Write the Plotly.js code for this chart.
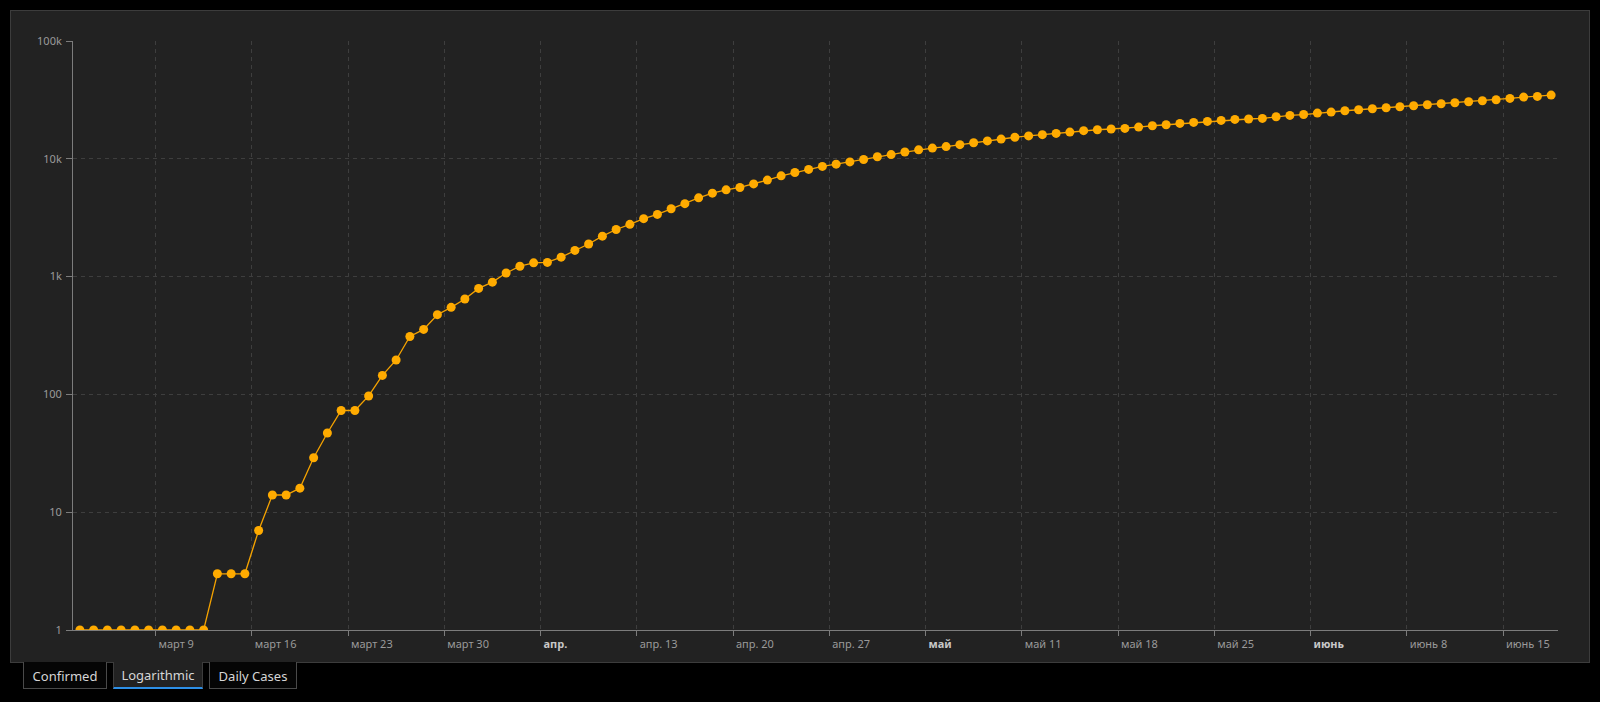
<!DOCTYPE html>
<html>
<head>
<meta charset="utf-8">
<script src="https://cdn.plot.ly/plotly-3.0.1.min.js"></script>
<style>
  html, body { margin:0; padding:0; background:#000; width:1600px; height:702px; overflow:hidden; font-family:"Noto Sans", sans-serif; }
  #panel { position:absolute; left:10px; top:10px; width:1580px; height:653px; box-sizing:border-box; background:#222222; border:1px solid #3c3c3c; }
  #chart { position:absolute; left:0; top:0; width:1600px; height:702px; }
  .tab { position:absolute; top:662px; height:27px; box-sizing:border-box; color:#d6d6d6; font-size:13px; line-height:28px; text-align:center; background:#050505; border:1px solid #4a4a4a; border-top:none; }
  .tab.active { background:#222222; border-bottom:2px solid #2d8fe6; border-left:1px solid #3c3c3c; border-right:1px solid #3c3c3c; line-height:27px; }
</style>
</head>
<body>
<div id="panel"></div>
<div id="chart"></div>
<div class="tab" style="left:23px;width:84px;">Confirmed</div>
<div class="tab active" style="left:113px;width:90px;">Logarithmic</div>
<div class="tab" style="left:209px;width:88px;">Daily Cases</div>
<script>
// Dates of each reading (cumulative confirmed cases)
const dates = [
 '2020-03-03 12:00','2020-03-04 12:00','2020-03-05 12:00','2020-03-06 12:00','2020-03-07 12:00','2020-03-08 12:00','2020-03-09 12:00','2020-03-10 12:00','2020-03-11 12:00','2020-03-12 12:00',
 '2020-03-13 12:00','2020-03-14 12:00','2020-03-15 12:00','2020-03-16 12:00','2020-03-17 12:00','2020-03-18 12:00','2020-03-19 12:00','2020-03-20 12:00','2020-03-21 12:00','2020-03-22 12:00',
 '2020-03-23 12:00','2020-03-24 12:00','2020-03-25 12:00','2020-03-26 12:00','2020-03-27 12:00','2020-03-28 12:00','2020-03-29 12:00','2020-03-30 12:00','2020-03-31 12:00',
 '2020-04-01 12:00','2020-04-02 12:00','2020-04-03 12:00','2020-04-04 12:00','2020-04-05 12:00','2020-04-06 12:00','2020-04-07 12:00','2020-04-08 12:00','2020-04-09 12:00','2020-04-10 12:00',
 '2020-04-11 12:00','2020-04-12 12:00','2020-04-13 12:00','2020-04-14 12:00','2020-04-15 12:00','2020-04-16 12:00','2020-04-17 12:00','2020-04-18 12:00','2020-04-19 12:00','2020-04-20 12:00',
 '2020-04-21 12:00','2020-04-22 12:00','2020-04-23 12:00','2020-04-24 12:00','2020-04-25 12:00','2020-04-26 12:00','2020-04-27 12:00','2020-04-28 12:00','2020-04-29 12:00','2020-04-30 12:00',
 '2020-05-01 12:00','2020-05-02 12:00','2020-05-03 12:00','2020-05-04 12:00','2020-05-05 12:00','2020-05-06 12:00','2020-05-07 12:00','2020-05-08 12:00','2020-05-09 12:00','2020-05-10 12:00',
 '2020-05-11 12:00','2020-05-12 12:00','2020-05-13 12:00','2020-05-14 12:00','2020-05-15 12:00','2020-05-16 12:00','2020-05-17 12:00','2020-05-18 12:00','2020-05-19 12:00','2020-05-20 12:00',
 '2020-05-21 12:00','2020-05-22 12:00','2020-05-23 12:00','2020-05-24 12:00','2020-05-25 12:00','2020-05-26 12:00','2020-05-27 12:00','2020-05-28 12:00','2020-05-29 12:00','2020-05-30 12:00','2020-05-31 12:00',
 '2020-06-01 12:00','2020-06-02 12:00','2020-06-03 12:00','2020-06-04 12:00','2020-06-05 12:00','2020-06-06 12:00','2020-06-07 12:00','2020-06-08 12:00','2020-06-09 12:00','2020-06-10 12:00',
 '2020-06-11 12:00','2020-06-12 12:00','2020-06-13 12:00','2020-06-14 12:00','2020-06-15 12:00','2020-06-16 12:00','2020-06-17 12:00','2020-06-18 12:00'
];
const confirmed = [
 1,1,1,1,1,1,1,1,1,1,
 3,3,3,7,14,14,16,29,47,73,
 73,97,145,196,310,356,475,548,645,
 794,897,1072,1225,1308,1319,1462,1668,1892,2203,
 2511,2777,3102,3372,3764,4161,4662,5106,5449,5710,
 6125,6592,7170,7647,8125,8617,9009,9410,9866,10406,
 10861,11411,11913,12331,12697,13184,13691,14195,14710,15232,
 15648,16023,16425,16847,17330,17650,17900,18110,18580,19070,
 19450,19980,20360,20770,21190,21610,21760,22030,22730,23360,23750,
 24440,24930,25580,26090,26600,27130,27660,28210,28770,29330,
 29920,30510,31120,31730,32560,33420,33870,34760
];
// X-axis ticks (weekly, Mondays) and their labels
const xTickDates = ['2020-03-09','2020-03-16','2020-03-23','2020-03-30','2020-04-06','2020-04-13','2020-04-20','2020-04-27','2020-05-04','2020-05-11','2020-05-18','2020-05-25','2020-06-01','2020-06-08','2020-06-15'];
const xTickLabels = ['март 9','март 16','март 23','март 30','<b>апр.</b>','апр. 13','апр. 20','апр. 27','<b>май</b>','май 11','май 18','май 25','<b>июнь</b>','июнь 8','июнь 15'];
// Y-axis ticks (log decades)
const yTickVals = [1,10,100,1000,10000,100000];
const yTickLabels = ['1','10','100','1k','10k','100k'];

const boldColor = '#c8c8c8';
const xText = xTickLabels.map(t => t.startsWith('<b>') ? t.replace('<b>','<b><span style="color:'+boldColor+'">').replace('</b>','</span></b>') : t);

const trace = {
  x: dates, y: confirmed, type:'scatter', mode:'lines+markers',
  line:{color:'#f5a300', width:1.3},
  marker:{color:'#ffab00', size:9},
  hoverinfo:'skip'
};
const font = {family:'"Noto Sans", sans-serif', size:11, color:'#9a9a9a'};
const layout = {
  width:1600, height:702,
  paper_bgcolor:'rgba(0,0,0,0)', plot_bgcolor:'rgba(0,0,0,0)',
  margin:{l:73, r:42, t:41, b:72, pad:0},
  showlegend:false,
  font: font,
  xaxis:{
    type:'date', range:['2020-03-03','2020-06-19'],
    tickmode:'array', tickvals:xTickDates, ticktext:xText,
    ticklabelposition:'outside right',
    ticklabelshift:2, ticklabelstandoff:4,
    tickfont:font,
    showgrid:true, gridcolor:'#3e3e3e', gridwidth:1, griddash:'4px,4px',
    showline:true, linecolor:'#7c7c7c', linewidth:1,
    ticks:'outside', ticklen:5, tickcolor:'#7c7c7c', tickwidth:1,
    zeroline:false, fixedrange:true
  },
  yaxis:{
    type:'log', range:[0,5],
    tickmode:'array', tickvals:yTickVals, ticktext:yTickLabels,
    ticklabelstandoff:2,
    tickfont:font,
    showgrid:true, gridcolor:'#3e3e3e', gridwidth:1, griddash:'4px,4px',
    showline:true, linecolor:'#7c7c7c', linewidth:1,
    ticks:'outside', ticklen:6, tickcolor:'#7c7c7c', tickwidth:1,
    zeroline:false, fixedrange:true
  }
};
Plotly.newPlot('chart', [trace], layout, {displayModeBar:false, staticPlot:true});
</script>
</body>
</html>
